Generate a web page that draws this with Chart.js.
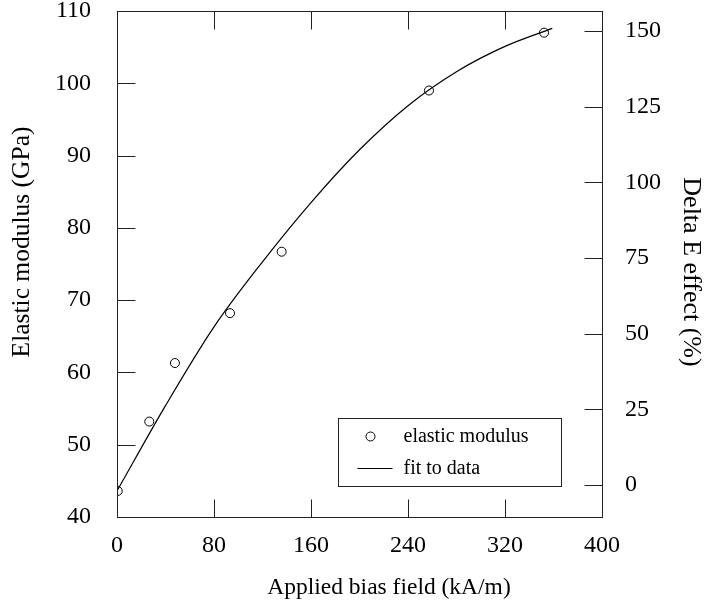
<!DOCTYPE html>
<html>
<head>
<meta charset="utf-8">
<script src="https://cdn.jsdelivr.net/npm/chart.js@4"></script>
<style>
html, body { margin: 0; padding: 0; background: #fff; }
</style>
</head>
<body>
<canvas id="modulusChart" width="707" height="607"></canvas>
<script>
// measured points
const fieldPoints = [0.6, 26.6, 47.8, 93.2, 135.8, 257.3, 352.2];
const modulusPoints = [43.6, 53.2, 61.3, 68.2, 76.7, 99.0, 107.0];

// fit curve
const fitField = [0, 40, 80, 120, 160, 200, 240, 280, 320, 359];
const fitModulus = [43.6, 55.4, 66.3, 75.3, 83.5, 90.8, 96.9, 101.6, 105.1, 107.6];

// right axis ticks (%)
const deltaETicks = [0, 25, 50, 75, 100, 125, 150];

const serif = '"Liberation Serif", "Times New Roman", serif';

// box round the plot, inward tick marks and axis titles
const framePlugin = {
    id: 'frame',
    afterDraw(chart) {
        const { ctx, chartArea: a, scales } = chart;
        const L = Math.round(a.left) + 0.5, R = Math.round(a.right) + 0.5;
        const T = Math.round(a.top) + 0.5, B = Math.round(a.bottom) + 0.5;
        const len = 18;
        ctx.save();
        ctx.strokeStyle = '#222';
        ctx.lineWidth = 1;
        ctx.strokeRect(L, T, R - L, B - T);
        ctx.beginPath();
        scales.x.ticks.forEach(t => {
            const px = Math.round(scales.x.getPixelForValue(t.value)) + 0.5;
            if (px <= L + 1 || px >= R - 1) return;
            ctx.moveTo(px, B); ctx.lineTo(px, B - len);
            ctx.moveTo(px, T); ctx.lineTo(px, T + len);
        });
        scales.y.ticks.forEach(t => {
            const py = Math.round(scales.y.getPixelForValue(t.value)) + 0.5;
            if (py <= T + 1 || py >= B - 1) return;
            ctx.moveTo(L, py); ctx.lineTo(L + len, py);
        });
        scales.y2.ticks.forEach(t => {
            const py = Math.round(scales.y2.getPixelForValue(t.value)) + 0.5;
            if (py <= T + 1 || py >= B - 1) return;
            ctx.moveTo(R, py); ctx.lineTo(R - len, py);
        });
        ctx.stroke();

        // axis titles
        ctx.fillStyle = '#000';
        ctx.textAlign = 'center';
        ctx.textBaseline = 'middle';
        ctx.font = '23.5px ' + serif;
        ctx.fillText(scales.x.options.title.text, a.left + 272, 588);

        ctx.save();
        ctx.translate(22, a.top + 231);
        ctx.rotate(-Math.PI / 2);
        ctx.font = '25.5px ' + serif;
        ctx.fillText(scales.y.options.title.text, 0, 0);
        ctx.restore();

        ctx.save();
        ctx.translate(691, a.top + 261);
        ctx.rotate(Math.PI / 2);
        ctx.font = '26px ' + serif;
        ctx.fillText(scales.y2.options.title.text, 0, 0);
        ctx.restore();

        ctx.restore();
    }
};

// legend box inside the plot, bottom right
const boxLegend = {
    id: 'boxLegend',
    afterDraw(chart) {
        const { ctx, chartArea: a } = chart;
        const sets = chart.data.datasets;
        const right = Math.round(a.right) - 41 + 0.5;
        const bottom = Math.round(a.bottom) - 31 + 0.5;
        const w = 223, h = 68;
        const left = right - w, top = bottom - h;
        ctx.save();
        ctx.strokeStyle = '#222';
        ctx.lineWidth = 1;
        ctx.strokeRect(left, top, w, h);
        ctx.font = '20px ' + serif;
        ctx.fillStyle = '#000';
        ctx.textBaseline = 'middle';
        sets.forEach((ds, i) => {
            const y = top + 18 + i * 32;
            ctx.strokeStyle = ds.borderColor;
            if (ds.type === 'line') {
                ctx.lineWidth = ds.borderWidth;
                ctx.beginPath();
                ctx.moveTo(left + 19, y); ctx.lineTo(left + 54, y);
                ctx.stroke();
            } else {
                ctx.lineWidth = ds.pointBorderWidth;
                ctx.beginPath();
                ctx.arc(left + 32, y, ds.pointRadius, 0, Math.PI * 2);
                ctx.stroke();
            }
            ctx.fillText(ds.label, left + 65, y);
        });
        ctx.restore();
    }
};

const tickFont = { family: serif, size: 24 };

const ctx = document.getElementById('modulusChart').getContext('2d');
const modulusChart = new Chart(ctx, {
    type: 'scatter',
    data: {
        datasets: [{
            label: 'elastic modulus',
            data: fieldPoints.map((x, i) => ({ x: x, y: modulusPoints[i] })),
            pointStyle: 'circle',
            pointRadius: 4.5,
            pointBorderWidth: 1,
            borderColor: '#000',
            backgroundColor: 'rgba(0,0,0,0)',
            showLine: false
        }, {
            type: 'line',
            label: 'fit to data',
            data: fitField.map((x, i) => ({ x: x, y: fitModulus[i] })),
            borderColor: '#000',
            borderWidth: 1.2,
            pointRadius: 0,
            cubicInterpolationMode: 'monotone',
            fill: false
        }]
    },
    options: {
        responsive: false,
        animation: false,
        layout: { padding: { top: 11, left: 0, right: 0, bottom: 0 } },
        plugins: {
            legend: { display: false },
            tooltip: { enabled: false }
        },
        scales: {
            x: {
                type: 'linear',
                position: 'bottom',
                min: 0,
                max: 400,
                ticks: { stepSize: 80, padding: 14, color: '#000', font: tickFont },
                grid: { display: false, drawTicks: false },
                border: { display: false },
                title: { display: false, text: 'Applied bias field (kA/m)' },
                afterFit: s => { s.height = 90; s.paddingLeft = 0; s.paddingRight = 0; }
            },
            y: {
                type: 'linear',
                position: 'left',
                min: 40,
                max: 110,
                ticks: { stepSize: 10, padding: 26, color: '#000', font: tickFont },
                grid: { display: false, drawTicks: false },
                border: { display: false },
                title: { display: false, text: 'Elastic modulus (GPa)' },
                afterFit: s => { s.width = 117; s.paddingTop = 0; s.paddingBottom = 0; }
            },
            y2: {
                type: 'linear',
                position: 'right',
                min: -10.6,
                max: 156.6,
                afterBuildTicks: s => { s.ticks = deltaETicks.map(v => ({ value: v })); },
                ticks: { padding: 23, color: '#000', font: tickFont },
                grid: { display: false, drawTicks: false },
                border: { display: false },
                title: { display: false, text: 'Delta E effect (%)' },
                afterFit: s => { s.width = 105; s.paddingTop = 0; s.paddingBottom = 0; }
            }
        }
    },
    plugins: [framePlugin, boxLegend]
});
</script>
</body>
</html>
